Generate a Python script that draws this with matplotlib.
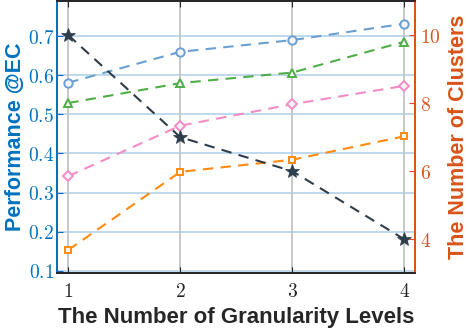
import numpy as np
import matplotlib.pyplot as plt
from matplotlib.ticker import FuncFormatter

plt.rcParams['mathtext.fontset'] = 'cm'

levels = [1, 2, 3, 4]
# performance @EC (left axis)
perf_blue = [0.581, 0.660, 0.690, 0.732]
perf_green = [0.529, 0.580, 0.607, 0.686]
perf_pink = [0.342, 0.471, 0.526, 0.573]
perf_orange = [0.153, 0.353, 0.384, 0.444]
# number of clusters (right axis)
clusters = [10, 7, 6, 4]

left_color = '#0072BD'
right_color = '#D95319'

fig = plt.figure(figsize=(4.68, 3.32), dpi=100)
ax = fig.add_axes([0.1218, 0.1786, 0.7639, 0.8184])
ax2 = ax.twinx()

# grid
for y in [0.1, 0.2, 0.3, 0.4, 0.5, 0.6, 0.7]:
    ax.axhline(y, color='#b9d5ec', lw=1.3, zorder=0)
for x in levels:
    ax.axvline(x, color='#c4c4c4', lw=1.3, zorder=0)

mk = dict(markersize=6, markerfacecolor='#f4f4f4', markeredgewidth=1.4, lw=1.5)
ax.plot(levels, perf_blue, '--o', color='#6b9fd1', dashes=(5, 3.5), **mk)
ax.plot(levels, perf_green, '--^', color='#4fae45', dashes=(5, 3.5), **mk)
ax.plot(levels, perf_pink, '--D', color='#f38cc6', dashes=(5, 3.5),
        **{**mk, 'markersize': 5})
ax.plot(levels, perf_orange, '--s', color='#ff8a0f', dashes=(5, 3.5),
        **{**mk, 'markersize': 5})
ax2.plot(levels, clusters, '--*', color='#2e3d4b', dashes=(5, 3.5), lw=1.5,
         markersize=10, markeredgewidth=0.5)

ax.set_xlim(0.9, 4.09)
ax.set_ylim(0.095, 0.79)
ax2.set_ylim(3.02, 11.0)

ax.set_xticks(levels)
ax.set_yticks([0.1, 0.2, 0.3, 0.4, 0.5, 0.6, 0.7])
ax2.set_yticks([4, 6, 8, 10])
ax.xaxis.set_major_formatter(FuncFormatter(lambda v, p: '$%d$' % v))
ax.yaxis.set_major_formatter(FuncFormatter(lambda v, p: '$%.1f$' % v))
ax2.yaxis.set_major_formatter(FuncFormatter(lambda v, p: '$%d$' % v))

ax.tick_params(axis='x', direction='in', length=4, labelsize=14, pad=7,
               top=True, color='#262626', labelcolor='#262626')
ax.tick_params(axis='y', direction='in', length=4, labelsize=14, pad=2,
               color=left_color, labelcolor=left_color)
ax2.tick_params(axis='y', direction='in', length=4, labelsize=14, pad=4,
                color=right_color, labelcolor=right_color)

for a in (ax, ax2):
    a.spines['top'].set_color('#262626')
    a.spines['bottom'].set_color('#262626')
    a.spines['left'].set_color(left_color)
    a.spines['right'].set_color(right_color)
    for s in a.spines.values():
        s.set_linewidth(1.3)

ax.set_xlabel('The Number of Granularity Levels', fontsize=16,
              fontweight='bold', family='Liberation Sans', color='#262626',
              labelpad=4)
ax.set_ylabel('Performance @EC', fontsize=15.5, fontweight='bold',
              family='Liberation Sans', color=left_color, labelpad=1)
ax2.set_ylabel('The Number of Clusters', fontsize=15.5, fontweight='bold',
               family='Liberation Sans', color=right_color, labelpad=5)

fig.savefig('out.png', dpi=100)
